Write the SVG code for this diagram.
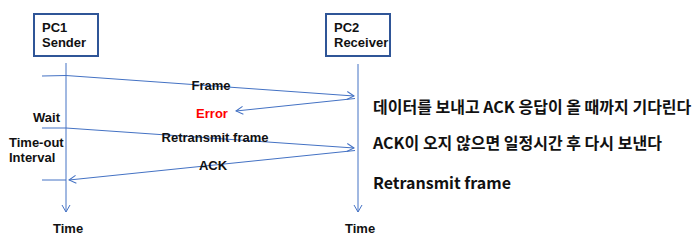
<svg xmlns="http://www.w3.org/2000/svg" width="700" height="241" viewBox="0 0 700 241">
<defs>
<style>
text{font-family:"Noto Sans CJK KR","Noto Sans",sans-serif;font-weight:700;fill:#111;}
.lbl{font-family:"Liberation Sans",Arial,sans-serif;font-size:13px;}
.big{font-size:16px;}
.box{fill:#fff;stroke:#2F5597;stroke-width:2;}
.ln{fill:none;stroke:#4472C4;stroke-width:1;}
</style>
<marker id="ah" markerWidth="10" markerHeight="10" refX="8" refY="5" orient="auto" markerUnits="userSpaceOnUse">
<path d="M1,1 L8,5 L1,9" fill="none" stroke="#4472C4" stroke-width="1"/>
</marker>
</defs>
<rect width="700" height="241" fill="#fff"/>
<g id="pc1">
<rect class="box" x="34" y="14" width="64" height="42"/>
<text class="lbl" x="42" y="32">PC1<tspan x="42" dy="15">Sender</tspan></text>
</g>
<g id="pc2">
<rect class="box" x="326" y="14" width="64" height="42"/>
<text class="lbl" x="334" y="32">PC2<tspan x="334" dy="15">Receiver</tspan></text>
</g>
<g id="connectors">
<line class="ln" x1="66" y1="63" x2="66" y2="212" marker-end="url(#ah)"/>
<line class="ln" x1="358" y1="64" x2="358" y2="212" marker-end="url(#ah)"/>
<polyline class="ln" points="42,76 66,75.5 354,96" marker-end="url(#ah)"/>
<line class="ln" x1="355" y1="98.5" x2="236" y2="111" marker-end="url(#ah)"/>
<polyline class="ln" points="42,128 66,128 354,148" marker-end="url(#ah)"/>
<line class="ln" x1="355" y1="150.5" x2="69" y2="180" marker-end="url(#ah)"/>
<line class="ln" x1="42" y1="180" x2="66" y2="180"/>
</g>
<g id="labels">
<text class="lbl" x="211" y="90" text-anchor="middle">Frame</text>
<text class="lbl" x="212" y="118" text-anchor="middle" style="fill:#FF0000">Error</text>
<text class="lbl" x="215" y="142" text-anchor="middle">Retransmit frame</text>
<text class="lbl" x="213" y="170" text-anchor="middle">ACK</text>
<text class="lbl" x="33" y="122">Wait</text>
<text class="lbl" x="9" y="147">Time-out<tspan x="9" dy="15">Interval</tspan></text>
<text class="lbl" x="53" y="233">Time</text>
<text class="lbl" x="345" y="233">Time</text>
</g>
<g id="notes">
<text class="big" x="373" y="113">데이터를 보내고 ACK 응답이 올 때까지 기다린다</text>
<text class="big" x="373" y="149">ACK이 오지 않으면 일정시간 후 다시 보낸다</text>
<text class="big" x="373" y="189">Retransmit frame</text>
</g>
</svg>
